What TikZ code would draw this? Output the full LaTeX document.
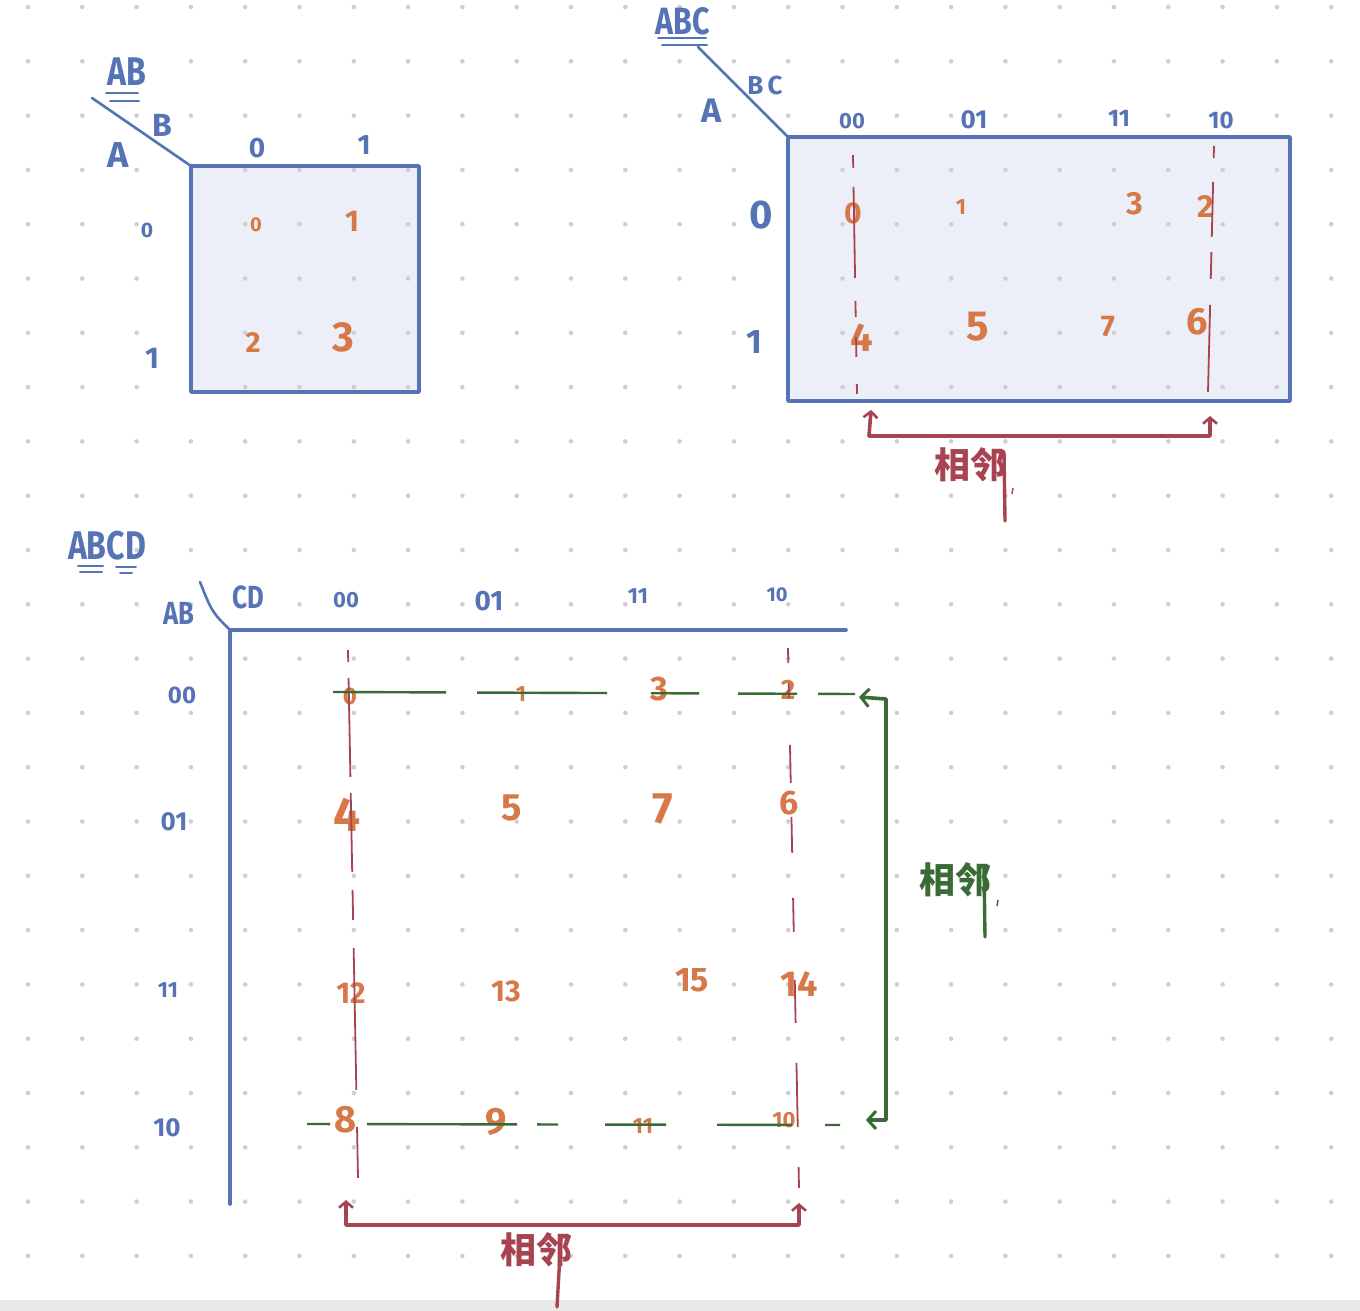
\documentclass[tikz,border=0pt]{standalone}
\usepackage{fontspec}
\setmainfont{Fira Sans}
\newfontfamily\cjk{Noto Sans CJK SC}
\usetikzlibrary{arrows.meta}
\definecolor{kblue}{HTML}{5673B6}
\definecolor{kfill}{HTML}{ECEFF7}
\definecolor{korange}{HTML}{D67848}
\definecolor{kred}{HTML}{A84452}
\definecolor{kgreen}{HTML}{3A6B36}
\definecolor{dotc}{HTML}{CFCFCF}
\definecolor{barc}{HTML}{E8E8E8}
\newcommand{\cond}[1]{\scalebox{0.8}[1]{#1}}
\begin{document}
\begin{tikzpicture}[x=1pt,y=-1pt,
  bline/.style={draw=kblue,line width=3.6pt,line cap=round,line join=round},
  dline/.style={draw=kblue,line width=2.6pt,line cap=round},
  uline/.style={draw=kblue,line width=2pt,line cap=round},
  lbl/.style={text=kblue,inner sep=0pt,font=\bfseries\fontsize{#1}{#1}\selectfont},
  cell/.style={text=korange,inner sep=0pt,font=\bfseries\fontsize{#1}{#1}\selectfont},
  rdash/.style={draw=kred,line width=1.8pt},
  gdash/.style={draw=kgreen,line width=2.4pt},
  rbrack/.style={draw=kred,line width=3.6pt,line join=round,{Straight Barb[length=6pt,width=14pt,line width=2.6pt]}-{Straight Barb[length=6pt,width=14pt,line width=2.6pt]}},
  gbrack/.style={draw=kgreen,line width=3.6pt,line join=round,{Straight Barb[length=8pt,width=18pt,line width=3pt]}-{Straight Barb[length=8pt,width=18pt,line width=3pt]}},
  rtxt/.style={text=kred,inner sep=0pt,font=\cjk\bfseries\fontsize{36}{36}\selectfont},
  gtxt/.style={text=kgreen,inner sep=0pt,font=\cjk\bfseries\fontsize{36}{36}\selectfont},
  rtail/.style={draw=kred,line width=3.4pt,line cap=round},
  gtail/.style={draw=kgreen,line width=3.4pt,line cap=round}]
\useasboundingbox (0,0) rectangle (1360,1311);
\fill[white] (0,0) rectangle (1360,1311);
% box fills
\coordinate (m1tl) at (191,166); \coordinate (m1br) at (419,392);
\coordinate (m2tl) at (788,137); \coordinate (m2br) at (1290,401);
\fill[kfill] (m1tl) rectangle (m1br);
\fill[kfill] (m2tl) rectangle (m2br);
% dot grid
\foreach \i in {0,...,24}{\foreach \j in {0,...,24}{\fill[dotc] ({28+54.3*\i},{7+54.3*\j}) circle (2.3pt);}}
\fill[barc] (0,1300) rectangle (1360,1311);

% ================= Map 1 (AB) =================
\draw[bline] (m1tl) rectangle (m1br);
\coordinate (m1d) at (92,98);
\draw[dline] (m1d) -- (m1tl);
\node[lbl=40] (m1title) at (127,72) {\cond{AB}};
\coordinate (m1ua) at (106,93); \coordinate (m1ub) at (138,93);
\coordinate (m1uc) at (110,101); \coordinate (m1ud) at (139,101);
\draw[uline] (m1ua) -- (m1ub); \draw[uline] (m1uc) -- (m1ud);
\node[lbl=32] (m1B) at (162,125) {B};
\node[lbl=36] (m1A) at (118,155) {A};
\node[lbl=28] (m1c0) at (257,148) {0};
\node[lbl=28] (m1c1) at (364,145) {1};
\node[lbl=21] (m1r0) at (147,230) {0};
\node[lbl=30] (m1r1) at (152,358) {1};
\node[cell=20] (m1n0) at (256,225) {0};
\node[cell=30] (m1n1) at (352,221) {1};
\node[cell=29] (m1n2) at (253,342) {2};
\node[cell=42] (m1n3) at (343,337) {3};

% ================= Map 2 (ABC) =================
\draw[bline] (m2tl) rectangle (m2br);
\coordinate (m2d) at (698,47);
\draw[dline] (m2d) -- (m2tl);
\node[lbl=38] (m2title) at (683,21) {\cond{ABC}};
\coordinate (m2ua) at (658,38); \coordinate (m2ub) at (706,38);
\coordinate (m2uc) at (662,45); \coordinate (m2ud) at (707,45);
\draw[uline] (m2ua) -- (m2ub); \draw[uline] (m2uc) -- (m2ud);
\node[lbl=26] (m2BC) at (765,85) {B\,C};
\node[lbl=34] (m2A) at (712,111) {A};
\node[lbl=22] (m2c00) at (852,121) {00};
\node[lbl=26] (m2c01) at (974,120) {01};
\node[lbl=24] (m2c11) at (1119,118) {11};
\node[lbl=24] (m2c10) at (1221,120) {10};
\node[lbl=40] (m2r0) at (761,215) {0};
\node[lbl=34] (m2r1) at (754,342) {1};
\node[cell=30] (m2n0) at (853,213) {0};
\node[cell=22] (m2n1) at (961,207) {1};
\node[cell=32] (m2n3) at (1135,204) {3};
\node[cell=32] (m2n2) at (1206,206) {2};
\node[cell=40] (m2n4) at (862,338) {4};
\node[cell=42] (m2n5) at (978,327) {5};
\node[cell=30] (m2n7) at (1108,327) {7};
\node[cell=38] (m2n6) at (1197,322) {6};
% red dashed columns
\coordinate (m2la) at (853,155); \coordinate (m2lb) at (857,394);
\draw[rdash,dash pattern=on 13pt off 19pt on 91pt off 23pt on 16pt off 20pt on 20pt off 27pt on 10pt] (m2la) -- (m2lb);
\coordinate (m2ra) at (1214,146); \coordinate (m2rb) at (1208,392);
\draw[rdash,dash pattern=on 12pt off 24pt on 55pt off 15pt on 27pt off 26pt on 87pt] (m2ra) -- (m2rb);
% red bracket
\coordinate (m2al) at (871,410); \coordinate (m2bl) at (869,436);
\coordinate (m2br2) at (1210,436); \coordinate (m2ar) at (1210,416);
\draw[rbrack] (m2al) -- (m2bl) -- (m2br2) -- (m2ar);
\node[rtxt] (m2adj) at (970,465) {相邻};
\coordinate (m2ta) at (1004,452); \coordinate (m2tb) at (1005,521);
\draw[rtail] (m2ta) -- (m2tb);
\coordinate (m2ca) at (1013,488); \coordinate (m2cb) at (1012,494);
\draw[draw=kred,line width=1.5pt] (m2ca) -- (m2cb);

% ================= Map 3 (ABCD) =================
\coordinate (m3o) at (230,630);
\coordinate (m3r) at (846,630);
\coordinate (m3b) at (230,1204);
\draw[bline] (m3r) -- (m3o) -- (m3b);
\coordinate (m3d) at (200,582);
\draw[dline] (m3d) .. controls (212,612) .. (m3o);
\node[lbl=40] (m3title) at (107,546) {\cond{ABCD}};
\coordinate (m3ua) at (78,566); \coordinate (m3ub) at (103,566);
\coordinate (m3uc) at (80,572); \coordinate (m3ud) at (102,572);
\coordinate (m3ue) at (116,567); \coordinate (m3uf) at (136,567);
\coordinate (m3ug) at (120,573); \coordinate (m3uh) at (132,573);
\draw[uline] (m3ua) -- (m3ub); \draw[uline] (m3uc) -- (m3ud);
\draw[uline] (m3ue) -- (m3uf); \draw[uline] (m3ug) -- (m3uh);
\node[lbl=32] (m3AB) at (179,613) {\cond{AB}};
\node[lbl=32] (m3CD) at (248,597) {\cond{CD}};
\node[lbl=22] (m3c00) at (346,600) {00};
\node[lbl=28] (m3c01) at (489,601) {01};
\node[lbl=22] (m3c11) at (638,596) {11};
\node[lbl=20] (m3c10) at (777,595) {10};
\node[lbl=24] (m3r00) at (182,695) {00};
\node[lbl=26] (m3r01) at (174,822) {01};
\node[lbl=22] (m3r11) at (168,990) {11};
\node[lbl=26] (m3r10) at (167,1128) {10};
% cells
\node[cell=24] (m3n0) at (350,696) {0};
\node[cell=22] (m3n1) at (521,694) {1};
\node[cell=34] (m3n3) at (659,689) {3};
\node[cell=28] (m3n2) at (788,690) {2};
\node[cell=48] (m3n4) at (347,815) {4};
\node[cell=38] (m3n5) at (512,808) {5};
\node[cell=44] (m3n7) at (663,809) {7};
\node[cell=34] (m3n6) at (789,803) {6};
\node[cell=30] (m3n12) at (351,993) {12};
\node[cell=30] (m3n13) at (506,991) {13};
\node[cell=34] (m3n15) at (692,980) {15};
\node[cell=36] (m3n14) at (799,984) {14};
\node[cell=38] (m3n8) at (346,1120) {8};
\node[cell=38] (m3n9) at (496,1122) {9};
\node[cell=22] (m3n11) at (643,1126) {11};
\node[cell=22] (m3n10) at (784,1120) {10};
% red dashed columns
\coordinate (m3la) at (348,650); \coordinate (m3lb) at (358,1178);
\draw[rdash,dash pattern=on 12pt off 16pt on 99pt off 16pt on 79pt off 18pt on 30pt off 28pt on 142pt off 37pt on 51pt] (m3la) -- (m3lb);
\coordinate (m3ra) at (788,648); \coordinate (m3rb) at (799,1188);
\draw[rdash,dash pattern=on 15pt off 20pt on 15pt off 47pt on 38pt off 34pt on 36pt off 45pt on 34pt off 48pt on 43pt off 40pt on 64pt off 40pt on 21pt] (m3ra) -- (m3rb);
% green dashed rows
\coordinate (m3ta) at (333,692); \coordinate (m3tb) at (855,694);
\draw[gdash,dash pattern=on 113pt off 31pt on 130pt off 44pt on 48pt off 39pt on 59pt off 21pt on 37pt] (m3ta) -- (m3tb);
\coordinate (m3ba) at (307,1124); \coordinate (m3bb) at (840,1125);
\draw[gdash,dash pattern=on 23pt off 37pt on 150pt off 20pt on 21pt off 47pt on 61pt off 51pt on 75pt off 33pt on 15pt] (m3ba) -- (m3bb);
% green bracket
\coordinate (m3ga) at (859,697); \coordinate (m3gb) at (886,699);
\coordinate (m3gc) at (886,1120); \coordinate (m3gd) at (866,1120);
\draw[gbrack] (m3ga) -- (m3gb) -- (m3gc) -- (m3gd);
\node[gtxt] (m3gadj) at (955,880) {相邻};
\coordinate (m3gta) at (984,868); \coordinate (m3gtb) at (985,937);
\draw[gtail] (m3gta) -- (m3gtb);
\coordinate (m3gca) at (998,900); \coordinate (m3gcb) at (997,906);
\draw[draw=kgreen,line width=1.5pt] (m3gca) -- (m3gcb);
% red bracket
\coordinate (m3al) at (346,1200); \coordinate (m3bl) at (346,1225);
\coordinate (m3br2) at (799,1225); \coordinate (m3ar) at (799,1203);
\draw[rbrack] (m3al) -- (m3bl) -- (m3br2) -- (m3ar);
\node[rtxt] (m3adj) at (536,1250) {相邻};
\coordinate (m3ta2) at (561,1237); \coordinate (m3tb2) at (557,1307);
\draw[rtail] (m3ta2) -- (m3tb2);
\end{tikzpicture}
\end{document}
